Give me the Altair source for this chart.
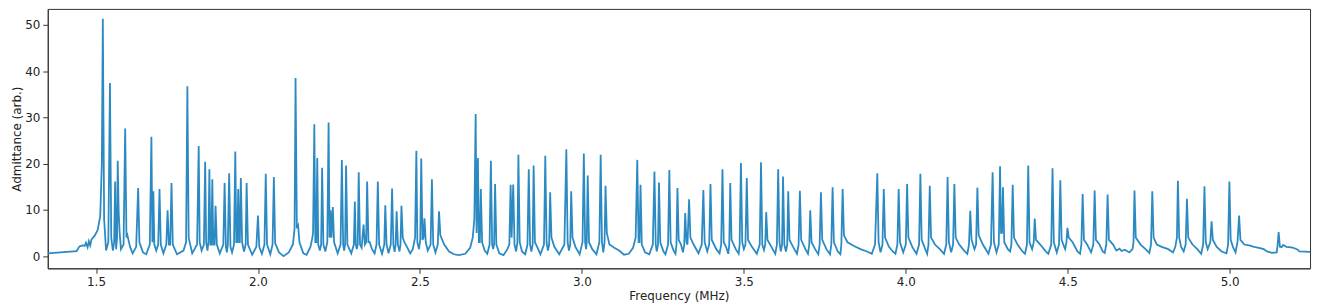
import altair as alt
import pandas as pd

# (frequency MHz, admittance arb.) vertices, in bands
band_1 = [(1.351,0.6),(1.440,1.1),(1.449,2.1),(1.458,2.3),(1.465,2.2),(1.469,2.9),(1.474,1.9),(1.478,3.2),
(1.482,2.3),(1.486,3.6),(1.495,4.3),(1.505,5.6),(1.513,8.6),(1.518,20),(1.521,51.3),(1.525,8),(1.531,1.2),
(1.538,3),(1.543,37.4),(1.547,4),(1.552,1.2),(1.556,3),(1.559,16.1),(1.562,1.5),(1.565,4),(1.567,20.6),
(1.570,9.4),(1.573,5),(1.577,1.5),(1.585,2.5),(1.590,27.6),(1.594,4),(1.597,4.5),(1.605,2),(1.613,0.6),
(1.624,2),(1.630,14.7),(1.634,3),(1.645,0.8),(1.655,0.4),(1.666,2.5),(1.671,25.8),(1.674,3),(1.677,14.0),
(1.680,2.5),(1.686,1.2),(1.692,2.5),(1.696,14.5),(1.700,2.5),(1.708,0.6),(1.717,2.5),(1.721,9.9),(1.725,2.5),
(1.729,2.5),(1.733,15.8),(1.737,2.5),(1.750,0.4),(1.770,1.2),(1.778,3),(1.782,36.7),(1.786,4),(1.797,0.6),
(1.812,2.5),(1.817,23.8),(1.820,3),(1.826,1.2),(1.833,2.5),(1.837,20.4),(1.840,3),(1.844,1.2),(1.847,3),
(1.850,18.8),(1.853,2.5),(1.856,2.5),(1.859,16.6),(1.862,2.5),(1.866,2.5),(1.869,10.9),(1.873,2.5),(1.882,0.6),
(1.893,2.5),(1.897,15.8),(1.901,2),(1.904,0.8),(1.907,2.5),(1.911,17.9),(1.915,2),(1.920,0.8),(1.926,2.5),
(1.930,22.6),(1.933,3),(1.936,3),(1.939,14.5),(1.942,3),(1.944,3),(1.947,16.9),(1.951,3),(1.957,1),(1.962,2.5),
(1.965,15.8),(1.969,2.5),(1.982,0.3),(1.995,2),(2.000,8.75),(2.004,2),(2.012,0.5),(2.020,2.5),(2.024,17.8),
(2.028,2.5),(2.038,0.4),(2.045,2.5),(2.049,17.1),(2.053,2.8),(2.065,0.8),(2.079,0.0),(2.095,0.8),(2.108,2.5),
(2.113,6),(2.116,38.5),(2.120,6),(2.124,6.6),(2.128,3),(2.140,0.6),(2.150,0.3),(2.162,2),(2.168,4),(2.170,5),
(2.174,28.5),(2.177,3),(2.180,3),(2.183,21.2),(2.186,2.5),(2.191,1.2),(2.195,2.5),(2.198,19.1),(2.202,2.5),
(2.208,1),(2.214,3),(2.218,28.9),(2.221,4),(2.224,9.9),(2.227,4),(2.231,10.6),(2.235,3),(2.246,0.6),(2.255,2.5),
(2.259,20.8),(2.263,2.5),(2.266,1.2),(2.269,2.5),(2.272,19.6),(2.276,2.5),(2.288,0.6),(2.296,2.5),(2.299,11.8),
(2.302,2.5),(2.305,1.5),(2.308,2.5),(2.311,18.1),(2.315,2.5),(2.320,1.8),(2.326,6.8),(2.330,2.5),(2.334,3),
(2.337,16.1),(2.341,3),(2.345,3),(2.352,1.5),(2.360,0.6),(2.366,2.5),(2.370,16.1),(2.374,2.5),(2.383,0.5),
(2.390,2.5),(2.393,11.0),(2.397,2.5),(2.403,0.6),(2.410,2.5),(2.414,14.6),(2.418,2.5),(2.422,0.9),(2.425,2.5),
(2.428,9.7),(2.432,2.5),(2.437,1),(2.440,2.5),(2.443,10.9),(2.447,4),(2.452,3),(2.460,2),(2.470,0.6)]

band_2 = [(2.478,1.5),(2.485,4),(2.489,22.8),(2.492,3),(2.497,1.5),(2.501,3.5),(2.504,21.1),(2.508,3.5),(2.511,4),
(2.514,8.2),(2.518,3),(2.524,1.2),(2.533,2.5),(2.537,16.6),(2.541,2.5),(2.548,0.8),(2.555,2.5),(2.559,9.7),
(2.563,4.5),(2.575,2.5),(2.590,1.0),(2.605,0.4),(2.620,0.2),(2.640,0.5),(2.655,1.8),(2.663,4),(2.668,8),
(2.672,30.7),(2.675,5),(2.679,21.2),(2.682,3),(2.685,3),(2.688,14.5),(2.692,3),(2.700,1.2),(2.708,0.5),
(2.715,2.5),(2.719,20.6),(2.723,2.5),(2.726,1.5),(2.729,2.5),(2.732,15.6),(2.736,2.5),(2.745,0.6),(2.758,0.2),
(2.770,1.5),(2.776,2.5),(2.780,15.4),(2.783,4),(2.788,15.5),(2.792,2.5),(2.797,1),(2.801,3),(2.804,21.9),
(2.808,3),(2.815,1),(2.825,0.4),(2.832,2.5),(2.836,18.8),(2.840,2.5),(2.844,1),(2.848,2.5),(2.851,19.6),
(2.855,3),(2.862,2),(2.872,0.4),(2.883,2.5),(2.887,21.7),(2.891,3),(2.895,1.2),(2.899,2.5),(2.902,13.8),
(2.906,4),(2.915,2),(2.930,0.4),(2.946,2.5),(2.952,23.1),(2.956,3),(2.960,1.2),(2.964,2.5),(2.967,14.0),
(2.971,4),(2.980,2),(2.993,0.4),(3.002,3),(3.006,22.2),(3.010,3),(3.013,1.5),(3.015,3),(3.018,17.4),(3.022,3),
(3.032,1.5),(3.045,0.4),(3.054,3),(3.058,21.9),(3.062,3),(3.066,0.8),(3.070,3),(3.073,15.2),(3.077,5),
(3.085,2.5),(3.100,1.8),(3.115,1.2),(3.130,0.3),(3.145,0.5),(3.158,1.8),(3.166,4),(3.171,20.8),(3.175,3),
(3.178,3),(3.181,15.4),(3.185,2.5),(3.195,0.8),(3.208,0.4),(3.219,2.5),(3.224,18.3),(3.228,2.5),(3.231,1),
(3.235,2.5),(3.238,15.9),(3.242,3),(3.252,1),(3.258,0.4),(3.266,2.5),(3.270,18.6),(3.274,3),(3.283,1.2),
(3.289,0.5),(3.292,2.5),(3.295,14.7),(3.299,3.5),(3.306,2.5),(3.312,0.8),(3.316,2.5),(3.319,9.3),(3.323,3),
(3.326,2.5),(3.331,12.3),(3.335,4),(3.345,2.5),(3.360,0.6)]

band_3 = [(3.370,2.5),(3.375,14.3),(3.379,3),(3.387,1),(3.393,2.5),(3.397,15.6),(3.401,3.5),(3.415,1.5),
(3.425,0.6),(3.430,2.5),(3.434,18.8),(3.438,3),(3.445,2),(3.452,0.5),(3.455,2.5),(3.458,15.8),(3.462,3.5),
(3.475,1.5),(3.484,0.5),(3.487,2.5),(3.491,20.1),(3.495,3),(3.500,1.5),(3.505,2.5),(3.509,16.9),(3.513,3.5),
(3.525,2),(3.540,0.5),(3.549,2.5),(3.553,20.3),(3.557,2.5),(3.562,1.3),(3.566,2.5),(3.569,9.5),(3.573,3.5),
(3.585,2),(3.597,0.5),(3.602,2.5),(3.606,18.8),(3.610,3),(3.614,1),(3.618,2.5),(3.621,17.2),(3.625,2.5),
(3.630,1),(3.634,2.5),(3.637,14.0),(3.641,3.5),(3.652,2),(3.664,0.5),(3.669,2.5),(3.673,14.1),(3.677,3.5),
(3.690,1.5),(3.698,0.5),(3.702,2.5),(3.705,9.9),(3.709,3),(3.720,1.5),(3.730,0.4),(3.734,2.5),(3.738,13.8),
(3.742,3.5),(3.755,1.5),(3.766,0.4),(3.770,2.5),(3.774,14.9),(3.778,3),(3.790,1),(3.798,0.4),(3.801,2.5),
(3.805,14.5),(3.809,4.5),(3.820,3),(3.840,2.2),(3.860,1.5),(3.880,1),(3.895,0.5),(3.905,2.5),(3.912,17.9),
(3.916,3),(3.922,0.8),(3.928,2.5),(3.932,14.5),(3.936,4),(3.948,2),(3.960,1),(3.968,0.5),(3.974,2.5),
(3.978,14.5),(3.982,3),(3.992,0.8),(4.000,2.5),(4.004,15.6),(4.008,4),(4.020,2),(4.033,0.5),(4.041,2.5),
(4.045,17.8),(4.049,3.5),(4.060,1.5),(4.066,0.5),(4.070,2.5),(4.074,15.2),(4.078,4),(4.090,2.5),(4.105,1.5),
(4.118,0.5),(4.125,2.5),(4.129,17.1),(4.133,3),(4.140,0.8),(4.146,2.5),(4.150,15.6),(4.154,4),(4.165,2.5),
(4.180,1.2),(4.190,0.5),(4.195,2.5),(4.199,9.8),(4.203,3.5),(4.212,1.5),(4.217,2.5),(4.221,14.8),(4.225,4.5),
(4.238,2.5),(4.255,0.5),(4.263,2.5),(4.268,18.1),(4.272,3),(4.280,0.8),(4.287,2.5),(4.291,19.4),(4.294,5),
(4.297,5),(4.300,14.9),(4.304,3),(4.315,1.5),(4.322,1)]

band_4 = [(4.326,2.5),(4.330,15.4),(4.334,4),(4.345,2.5),(4.360,1),(4.368,0.5),(4.374,2.5),(4.378,19.6),
(4.382,3),(4.390,1.5),(4.395,3),(4.398,8.1),(4.402,3.5),(4.415,2.5),(4.430,1.2),(4.440,0.5),(4.449,2.5),
(4.453,19.0),(4.457,3),(4.466,0.8),(4.473,2.5),(4.477,16.4),(4.481,3.5),(4.489,2),(4.492,1.5),(4.496,3),
(4.499,6.1),(4.503,4),(4.515,3),(4.530,1),(4.538,0.5),(4.542,2.5),(4.546,13.4),(4.550,3.5),(4.560,2.5),
(4.572,0.8),(4.579,2.5),(4.583,14.2),(4.587,3.5),(4.598,2.5),(4.608,1),(4.614,0.7),(4.619,2.5),(4.623,13.3),
(4.627,3.5),(4.640,2.5),(4.650,1.2),(4.660,1.6),(4.666,1.1),(4.676,1.4),(4.690,0.8),(4.700,1.5),(4.703,3),
(4.706,14.2),(4.710,4),(4.725,2.5),(4.740,1.5),(4.752,0.7),(4.757,2.5),(4.761,14.0),(4.765,4),(4.775,2.5),
(4.790,2),(4.810,1.5),(4.825,0.8),(4.832,2),(4.837,4),(4.840,16.3),(4.844,4),(4.850,2),(4.858,1),(4.864,2.5),
(4.868,12.4),(4.872,4),(4.885,2.5),(4.900,1.5),(4.912,0.5),(4.918,2.5),(4.922,15.1),(4.926,3),(4.932,1.5),
(4.940,3),(4.944,7.5),(4.948,3.5),(4.960,2),(4.975,1),(4.990,0.6),(4.995,2.5),(4.999,16.1),(5.003,3.5),
(5.010,2),(5.018,0.8),(5.024,3),(5.029,8.75),(5.033,3.5),(5.045,2.5),(5.060,2.3),(5.075,2),(5.090,1.8),
(5.105,1.5),(5.115,1.0),(5.130,0.7),(5.145,0.8),(5.148,2.5),(5.151,5.2),(5.155,2),(5.160,1.9),(5.165,2.4),
(5.175,2.0),(5.190,1.9),(5.200,1.7),(5.210,1.4),(5.215,1.0),(5.248,0.9)]

x_ticks = [1.5, 2.0, 2.5, 3.0, 3.5, 4.0, 4.5, 5.0]
y_ticks = [0, 10, 20, 30, 40, 50]

rows = band_1 + band_2 + band_3 + band_4
df = pd.DataFrame(rows, columns=["freq", "adm"])
df["order"] = range(len(df))

FONT = "DejaVu Sans"
line = alt.Chart(df).mark_line(color="#2c8ac3", strokeWidth=1.8, clip=True).encode(
    x=alt.X("freq:Q", scale=alt.Scale(domain=[1.351, 5.248], nice=False, zero=False),
            axis=alt.Axis(values=x_ticks, format=".1f", title="Frequency (MHz)", grid=False)),
    y=alt.Y("adm:Q", scale=alt.Scale(domain=[-2.64, 53.44], nice=False, zero=False),
            axis=alt.Axis(values=y_ticks, format="d", title="Admittance (arb.)", grid=False)),
    order="order:Q",
)

chart = line.properties(
    width=1270, height=261,
    autosize=alt.AutoSizeParams(type="none"),
    padding={"left": 40, "top": 0, "right": 7, "bottom": 37},
).configure_view(stroke="#333", strokeWidth=1).configure_axis(
    domainColor="#333", tickColor="#333", tickSize=5, labelFont=FONT, titleFont=FONT,
    labelFontSize=12, titleFontSize=12, labelColor="#222", titleColor="#222",
    titleFontWeight="normal", labelPadding=3,
).configure_axisX(titlePadding=3).configure_axisY(titlePadding=1)

chart.save("out.html", embed_options={"renderer": "svg", "actions": False})
